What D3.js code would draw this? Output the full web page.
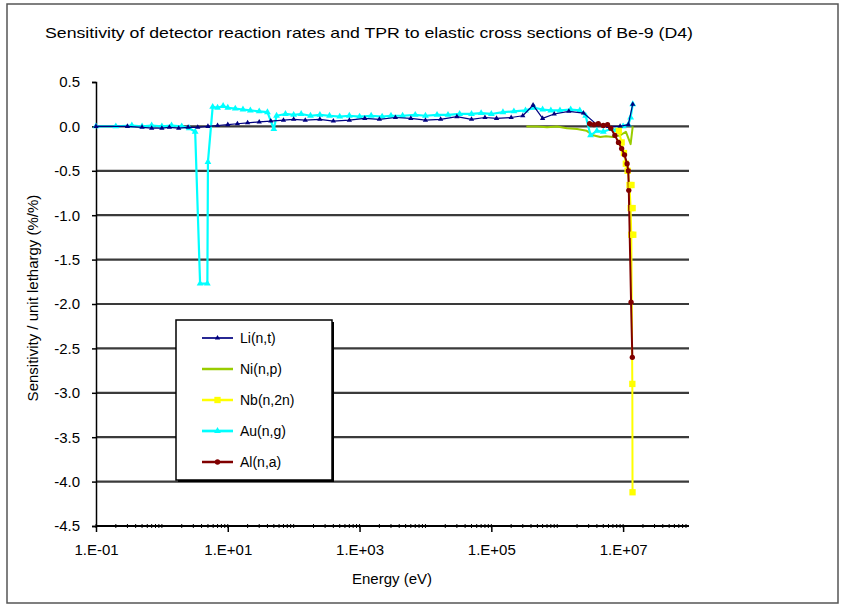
<!DOCTYPE html>
<html>
<head>
<meta charset="utf-8">
<script src="https://cdn.jsdelivr.net/npm/d3@7"></script>
<style>
  body { margin: 0; background: #fff; }
  svg { display: block; font-family: "Liberation Sans", Arial, sans-serif; }
</style>
</head>
<body>
<svg id="chart" width="842" height="608"></svg>
<script>
const title = "Sensitivity of detector reaction rates and TPR to elastic cross sections of Be-9 (D4)";
const xTitle = "Energy (eV)";
const yTitle = "Sensitivity / unit lethargy (%/%)";

const yTicks = [0.5, 0.0, -0.5, -1.0, -1.5, -2.0, -2.5, -3.0, -3.5, -4.0, -4.5];
const xLabelTicks = [1e-1, 1e1, 1e3, 1e5, 1e7];
const xLabels = ["1.E-01", "1.E+01", "1.E+03", "1.E+05", "1.E+07"];

// Li(n,t)
const liE = [0.1, 0.3, 0.5, 0.7, 1, 1.3, 1.8, 2.5, 3.5, 5, 7, 10, 14, 20, 30, 45, 70, 100, 150, 250,
  400, 700, 1200, 2000, 3500, 6000, 1e4, 1.7e4, 3e4, 5e4, 8e4, 1.2e5, 2e5, 3e5, 4.3e5, 6e5,
  9e5, 1.5e6, 2.5e6, 4e6, 6e6, 9e6, 1.2e7, 1.4e7];
const liS = [0, 0, -0.01, -0.02, -0.02, -0.01, -0.02, -0.01, -0.01, 0, 0.01, 0.02, 0.03, 0.04, 0.05, 0.06, 0.07, 0.08, 0.07, 0.08,
  0.06, 0.07, 0.09, 0.08, 0.10, 0.09, 0.07, 0.08, 0.11, 0.08, 0.10, 0.09, 0.10, 0.12, 0.24, 0.09,
  0.14, 0.17, 0.15, 0.02, 0.0, 0.0, 0.02, 0.25];

// Ni(n,p)
const niE = [3.4e5, 5e5, 7e5, 1e6, 1.4e6, 2e6, 2.8e6, 3.5e6, 4.5e6, 5.5e6, 7e6, 9e6, 1.1e7, 1.3e7, 1.4e7];
const niS = [0.0, 0.0, -0.01, 0.0, -0.02, -0.03, -0.05, -0.1, -0.12, -0.11, -0.12, -0.1, -0.06, -0.2, 0.0];

// Nb(n,2n)
const nbE = [8.6e6, 9.5e6, 1.03e7, 1.1e7, 1.17e7, 1.25e7, 1.3e7, 1.33e7, 1.38e7, 1.39e7];
const nbS = [-0.05, -0.18, -0.3, -0.42, -0.5, -0.66, -0.92, -1.22, -2.9, -4.12];

// Au(n,g)
const auE = [0.1, 0.2, 0.35, 0.5, 0.7, 1.0, 1.4, 2.0, 2.6, 3.2, 3.8, 4.9, 5.0, 5.9, 7, 8.5, 10, 13, 17, 22,
  30, 40, 50, 55, 75, 100, 130, 180, 250, 350, 500, 700, 1000, 1500, 2200, 3000, 4500, 7000,
  1e4, 1.5e4, 2.2e4, 3.3e4, 5e4, 7e4, 1e5, 1.5e5, 2.2e5, 3.3e5, 4.5e5, 6e5, 8e5, 1.1e6, 1.6e6,
  2.2e6, 2.7e6, 3.2e6, 4e6, 5e6, 6.5e6, 8e6, 1e7, 1.2e7, 1.3e7, 1.4e7];
const auS = [0, 0, 0.01, 0, 0.01, 0, 0.01, 0, -0.02, -0.06, -1.77, -1.77, -0.4, 0.22, 0.21, 0.23, 0.21, 0.20, 0.19, 0.18,
  0.17, 0.16, -0.03, 0.12, 0.14, 0.13, 0.14, 0.12, 0.13, 0.12, 0.11, 0.12, 0.11, 0.12, 0.11, 0.12, 0.12, 0.13,
  0.12, 0.13, 0.13, 0.14, 0.14, 0.15, 0.14, 0.16, 0.17, 0.18, 0.21, 0.19, 0.18, 0.18, 0.19,
  0.18, 0.12, -0.1, -0.05, -0.06, -0.03, -0.04, 0.0, 0.02, 0.1, 0.25];

// Al(n,a)
const alE = [3.1e6, 3.6e6, 4.2e6, 5e6, 5.8e6, 6.5e6, 7.5e6, 8.5e6, 9.5e6, 1.05e7, 1.15e7, 1.2e7, 1.22e7, 1.32e7, 1.38e7];
const alS = [0.03, 0.02, 0.03, 0.01, 0.02, -0.02, -0.1, -0.18, -0.25, -0.32, -0.42, -0.5, -0.72, -1.98, -2.6];

const seriesNames = ["Li(n,t)", "Ni(n,p)", "Nb(n,2n)", "Au(n,g)", "Al(n,a)"];
const seriesColors = ["#000080", "#99CC00", "#FFFF00", "#00FFFF", "#800000"];

const series = [
  {name: seriesNames[0], color: seriesColors[0], E: liE, S: liS, sym: d3.symbolTriangle, size: 12, lw: 1.2},
  {name: seriesNames[1], color: seriesColors[1], E: niE, S: niS, sym: null, size: 0, lw: 2},
  {name: seriesNames[2], color: seriesColors[2], E: nbE, S: nbS, sym: d3.symbolSquare, size: 40, lw: 2},
  {name: seriesNames[3], color: seriesColors[3], E: auE, S: auS, sym: d3.symbolTriangle, size: 20, lw: 2.2},
  {name: seriesNames[4], color: seriesColors[4], E: alE, S: alS, sym: d3.symbolCircle, size: 22, lw: 2}
];
const drawOrder = [1, 3, 0, 2, 4];

const svg = d3.select("#chart");

// outer frame
svg.append("rect")
  .attr("x", 7).attr("y", 4).attr("width", 831).attr("height", 599)
  .attr("fill", "#fff").attr("stroke", "#555").attr("stroke-width", 1.5);

const x = d3.scaleLog().domain([0.1, 1e8]).range([96, 689]);
const y = d3.scaleLinear().domain([-4.5, 0.5]).range([526, 82]);

// gridlines
svg.append("g").selectAll("line")
  .data(yTicks.filter(v => v < 0.4 && v > -4.4))
  .join("line")
  .attr("x1", x.range()[0]).attr("x2", x.range()[1])
  .attr("y1", d => y(d)).attr("y2", d => y(d))
  .attr("stroke", "#3a3a3a").attr("stroke-width", 2.2);

// y axis
const yAxis = svg.append("g").attr("transform", `translate(${x.range()[0]},0)`)
  .call(d3.axisLeft(y).tickValues(yTicks).tickFormat(d3.format(".1f")).tickSize(4).tickPadding(12));
yAxis.select(".domain").attr("stroke", "#000").attr("stroke-width", 1.5);
yAxis.selectAll(".tick line").attr("stroke", "#000").attr("stroke-width", 1.5);
yAxis.selectAll("text").attr("font-size", 15).attr("fill", "#000")
  .text(d => d === 0 ? "0.0" : d3.format(".1f")(d).replace("−", "-"));

// x axis
const minorTicks = [];
for (let p = -1; p < 8; p++) for (let m = 1; m < 10; m++) minorTicks.push(m * Math.pow(10, p));
const xAxisG = svg.append("g").attr("transform", `translate(0,${y(-4.5)})`);
xAxisG.append("line")
  .attr("x1", x.range()[0]).attr("x2", x.range()[1])
  .attr("stroke", "#000").attr("stroke-width", 2);
xAxisG.selectAll(".minor").data(minorTicks).join("line")
  .attr("class", "minor")
  .attr("x1", d => x(d)).attr("x2", d => x(d))
  .attr("y1", -2).attr("y2", 2)
  .attr("stroke", "#000").attr("stroke-width", 1);
const xAxis = d3.axisBottom(x).tickValues(xLabelTicks)
  .tickFormat((d, i) => xLabels[i]).tickSize(6).tickPadding(12);
const xAx = xAxisG.append("g").call(xAxis);
xAx.select(".domain").remove();
xAx.selectAll(".tick line").attr("stroke", "#000").attr("stroke-width", 1.5);
xAx.selectAll("text").attr("font-size", 15).attr("fill", "#000");

// series
const line = d3.line().x(d => x(d[0])).y(d => y(d[1]));
const plot = svg.append("g");
drawOrder.forEach(k => {
  const s = series[k];
  const pts = s.E.map((e, i) => [e, s.S[i]]);
  const g = plot.append("g");
  g.append("path").datum(pts)
    .attr("d", line)
    .attr("fill", "none")
    .attr("stroke", s.color)
    .attr("stroke-width", s.lw)
    .attr("stroke-linejoin", "round");
  if (s.sym) {
    g.selectAll("path.m").data(pts).join("path")
      .attr("class", "m")
      .attr("d", d3.symbol(s.sym, s.size))
      .attr("transform", d => `translate(${x(d[0])},${y(d[1])})`)
      .attr("fill", s.color);
  }
});
// Nb markers stay visible over the Al line, as in the reference
plot.append("g").selectAll("path")
  .data(nbE.map((e, i) => [e, nbS[i]]).filter(d => d[1] < -0.6 && d[1] > -1.5))
  .join("path")
  .attr("d", d3.symbol(d3.symbolSquare, 40))
  .attr("transform", d => `translate(${x(d[0]) + 2},${y(d[1])})`)
  .attr("fill", seriesColors[2]);

// legend
const lg = svg.append("g").attr("transform", "translate(176,320)");
lg.append("rect").attr("x", 2).attr("y", 2).attr("width", 156).attr("height", 160).attr("fill", "#000");
lg.append("rect").attr("width", 156).attr("height", 160)
  .attr("fill", "#fff").attr("stroke", "#000").attr("stroke-width", 1.5);
series.forEach((s, i) => {
  const ry = 18 + i * 31;
  const row = lg.append("g").attr("transform", `translate(0,${ry})`);
  row.append("line").attr("x1", 26).attr("x2", 57)
    .attr("stroke", s.color).attr("stroke-width", s.lw + 0.5);
  if (s.sym) {
    row.append("path").attr("d", d3.symbol(s.sym, s.size)())
      .attr("transform", "translate(41.5,0)").attr("fill", s.color);
  }
  row.append("text").attr("x", 64).attr("y", 5)
    .attr("font-size", 14).attr("fill", "#000").text(s.name);
});

// titles
svg.append("text")
  .attr("x", 45).attr("y", 38)
  .attr("font-size", 15).attr("textLength", 648).attr("lengthAdjust", "spacingAndGlyphs")
  .text(title);
svg.append("text")
  .attr("x", 392).attr("y", 584).attr("text-anchor", "middle")
  .attr("font-size", 15).text(xTitle);
svg.append("text")
  .attr("transform", "translate(38,298) rotate(-90)")
  .attr("text-anchor", "middle")
  .attr("font-size", 15).text(yTitle);
</script>
</body>
</html>
